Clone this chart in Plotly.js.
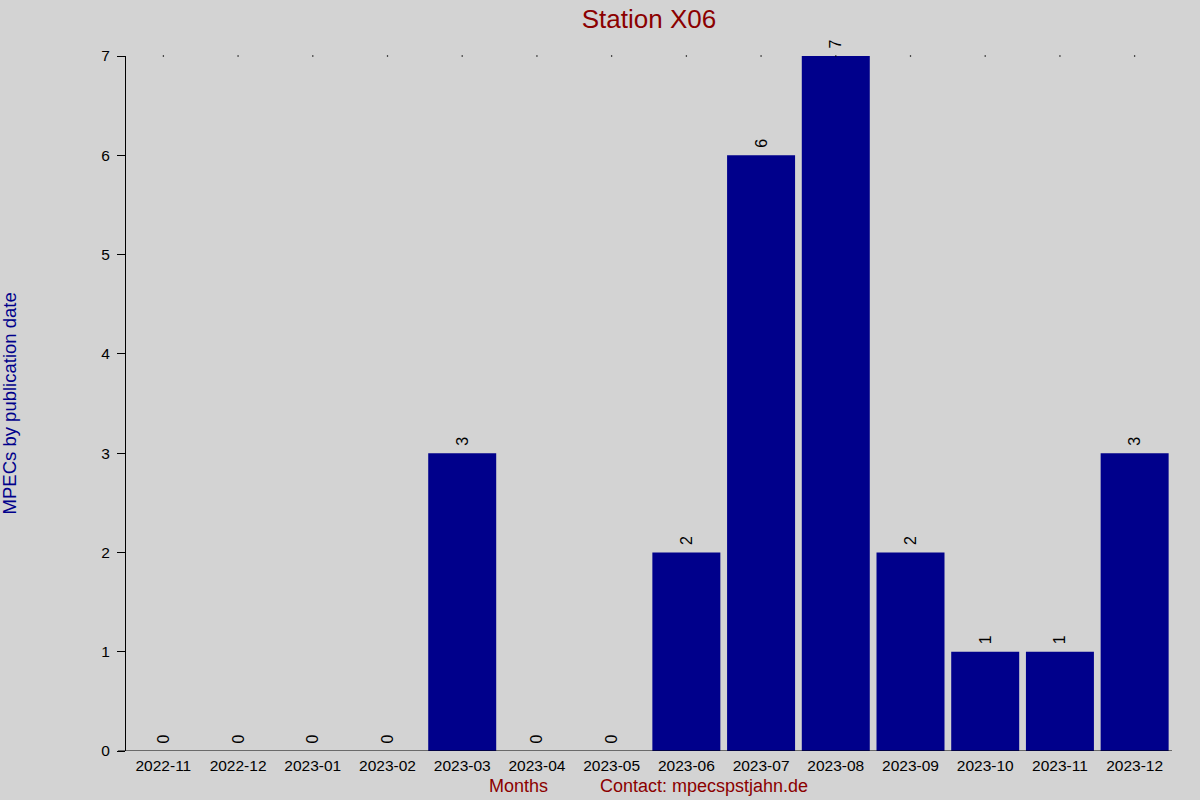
<!DOCTYPE html>
<html>
<head>
<meta charset="utf-8">
<script src="https://cdn.plot.ly/plotly-3.0.1.min.js"></script>
<style>
  html, body { margin: 0; padding: 0; background: #d3d3d3; }
  #chart { width: 1200px; height: 800px; }
</style>
</head>
<body>
<div id="chart"></div>
<script>
// months shown on the x axis
const months = ['2022-11', '2022-12', '2023-01', '2023-02', '2023-03', '2023-04', '2023-05',
                '2023-06', '2023-07', '2023-08', '2023-09', '2023-10', '2023-11', '2023-12'];
// MPEC counts per month
const counts = [0, 0, 0, 0, 3, 0, 0, 2, 6, 7, 2, 1, 1, 3];
const yTicks = [0, 1, 2, 3, 4, 5, 6, 7];

const yMax = Math.max(...counts);
const font = 'Liberation Sans, Arial, sans-serif';

const bars = {
    type: 'bar',
    x: months,
    y: counts,
    marker: { color: '#00008b' },
    // leading nbsp pushes the rotated label a bit off the bar top
    text: counts.map(v => '\u00a0' + v),
    textposition: 'outside',
    textangle: -90,
    cliponaxis: false,
    textfont: { family: font, size: 16, color: '#000' },
    hoverinfo: 'x+y'
};

// little dots along the top line, one per month
const dots = {
    type: 'scatter',
    mode: 'markers',
    x: months,
    y: months.map(() => yMax),
    marker: { color: '#000', size: 1.5 },
    cliponaxis: false,
    hoverinfo: 'skip'
};

const layout = {
    width: 1200,
    height: 800,
    paper_bgcolor: '#d3d3d3',
    plot_bgcolor: '#d3d3d3',
    showlegend: false,
    bargap: 0.09,
    margin: { l: 126, r: 28, t: 56, b: 49 },
    font: { family: font, size: 15, color: '#000' },
    title: {
        text: 'Station X06',
        font: { family: font, size: 26, color: '#8b0000' },
        xref: 'paper', x: 0.5, xanchor: 'center',
        y: 0.977, yanchor: 'middle'
    },
    xaxis: {
        type: 'category',
        range: [-0.5, months.length - 0.5],
        showgrid: false,
        zeroline: false,
        showline: false,
        ticks: '',
        ticklabelstandoff: 3,
        tickfont: { family: font, size: 15.5, color: '#000' },
        fixedrange: true
    },
    yaxis: {
        range: [0, yMax],
        tickvals: yTicks,
        ticks: 'outside',
        ticklen: 8,
        tickcolor: '#000',
        ticklabelstandoff: 4,
        showline: true,
        linecolor: '#000',
        linewidth: 1,
        showgrid: false,
        zeroline: false,
        tickfont: { family: font, size: 15.5, color: '#000' },
        fixedrange: true
    },
    shapes: [{
        type: 'line', xref: 'paper', yref: 'y',
        x0: -0.0077, x1: 1, y0: 0, y1: 0,
        line: { color: '#000', width: 1 }
    }],
    annotations: [
        {
            text: 'MPECs by publication date',
            xref: 'paper', yref: 'paper', x: -0.111, y: 0.5,
            xanchor: 'center', yanchor: 'middle', textangle: -90,
            showarrow: false,
            font: { family: font, size: 18.5, color: '#00008b' }
        },
        {
            text: 'Months',
            xref: 'paper', yref: 'paper', x: 0.3748, y: -0.05,
            xanchor: 'center', yanchor: 'middle',
            showarrow: false,
            font: { family: font, size: 18, color: '#8b0000' }
        },
        {
            text: 'Contact: mpecspstjahn.de',
            xref: 'paper', yref: 'paper', x: 0.4515, y: -0.05,
            xanchor: 'left', yanchor: 'middle',
            showarrow: false,
            font: { family: font, size: 18, color: '#8b0000' }
        }
    ]
};

Plotly.newPlot('chart', [bars, dots], layout, { displayModeBar: false, staticPlot: true });
</script>
</body>
</html>
